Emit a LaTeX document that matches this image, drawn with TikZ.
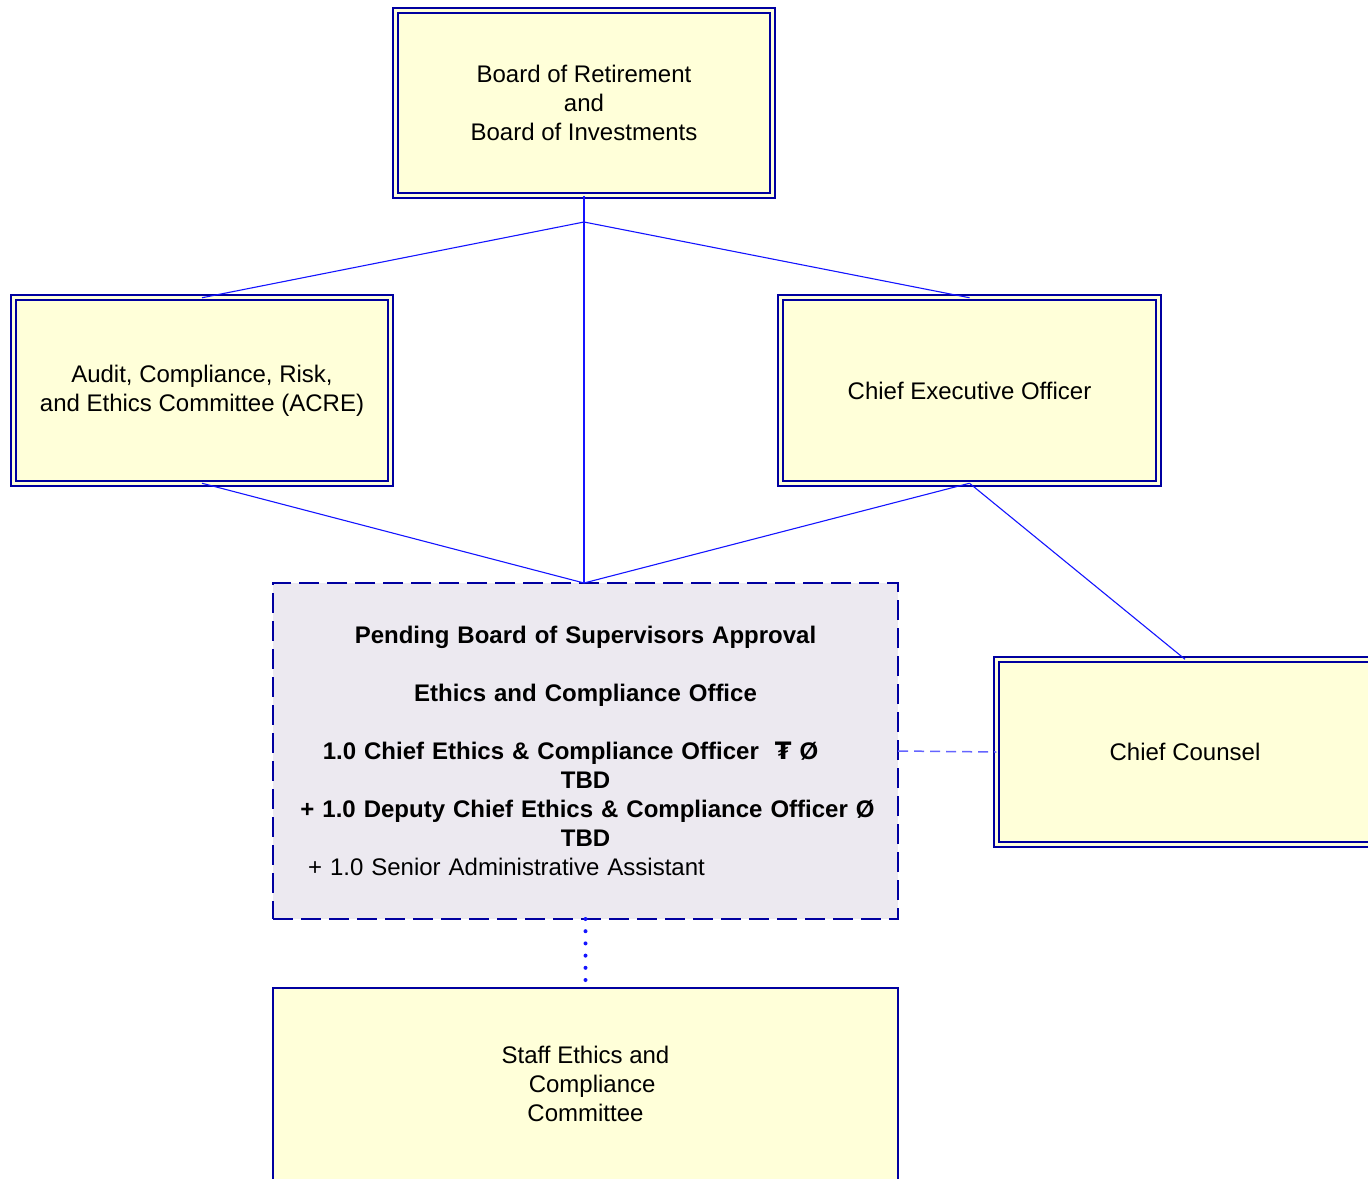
\documentclass[tikz,border=0pt]{standalone}
\usepackage{fontspec}
\setmainfont{Liberation Sans}
\newfontfamily\symfont{DejaVu Sans}
\definecolor{boxyellow}{RGB}{255,255,217}
\definecolor{officegray}{RGB}{236,233,240}
\definecolor{navyline}{RGB}{0,0,160}
\definecolor{linkblue}{RGB}{20,20,255}
\definecolor{softblue}{RGB}{100,100,255}
\begin{document}
\begin{tikzpicture}[x=1pt,y=-1pt,
  every node/.style={font=\fontsize{24}{29}\selectfont, inner sep=0pt, outer sep=0pt},
  orgbox/.style={draw=navyline, line width=2pt, double=boxyellow, double distance=2.8pt,
    fill=boxyellow, minimum width=377.5pt, minimum height=185.5pt, align=center},
  officebox/.style={draw=navyline, line width=2.2pt, dash pattern=on 20pt off 8pt,
    fill=officegray, minimum width=625pt, minimum height=336pt, text width=625pt, align=center},
  staffbox/.style={draw=navyline, line width=2.4pt, fill=boxyellow,
    minimum width=625pt, minimum height=192pt, align=center},
  link/.style={draw=linkblue, line width=1.1pt},
  dotlink/.style={draw=linkblue, line width=4pt, line cap=round, dash pattern=on 0pt off 12.2pt},
  dashlink/.style={draw=softblue, line width=1.5pt, dash pattern=on 10pt off 6pt}]
\useasboundingbox (0,0) rectangle (1368,1178);

% the boards and committees
\node[orgbox] (board) at (584,103) {Board of Retirement\\and\\Board of Investments};
\node[orgbox] (acre) at (202,390.5) {Audit, Compliance, Risk,\\and Ethics Committee (ACRE)};
\node[orgbox] (ceo) at (969.5,390.5) {Chief Executive Officer};
\node[orgbox] (counsel) at (1185,752) {Chief Counsel};

% the proposed office
\node[officebox] (office) at (585.5,751) {%
  \textbf{Pending Board of Supervisors Approval}\\[29pt]
  \textbf{Ethics and Compliance Office}\\[29pt]
  \makebox[\linewidth]{\hspace{-30pt}\textbf{1.0 Chief Ethics \& Compliance Officer\ \ {\symfont\bfseries ₮} Ø}}\\
  \textbf{TBD}\\
  \makebox[\linewidth]{\hspace{4pt}\textbf{+ 1.0 Deputy Chief Ethics \& Compliance Officer Ø}}\\
  \textbf{TBD}\\
  \makebox[\linewidth][l]{\hspace*{35pt}+ 1.0 Senior Administrative Assistant}};

\node[staffbox] (staff) at (585.5,1084) {Staff Ethics and\\\ \ Compliance\\Committee};

% reporting lines
\coordinate (split) at (584,222);
\coordinate (meet) at (584,583);
\draw[link] (board.south) -- (split);
\draw[link] (split) -- (acre.north);
\draw[link] (split) -- (ceo.north);
\draw[link] (split) -- (meet);
\draw[link] (acre.south) -- (meet);
\draw[link] (ceo.south) -- (meet);
\draw[link] (ceo.south) -- (counsel.north);
\draw[dashlink] (office.east) -- (counsel.west);
\draw[dotlink] (office.south) -- (staff.north);
\end{tikzpicture}
\end{document}
